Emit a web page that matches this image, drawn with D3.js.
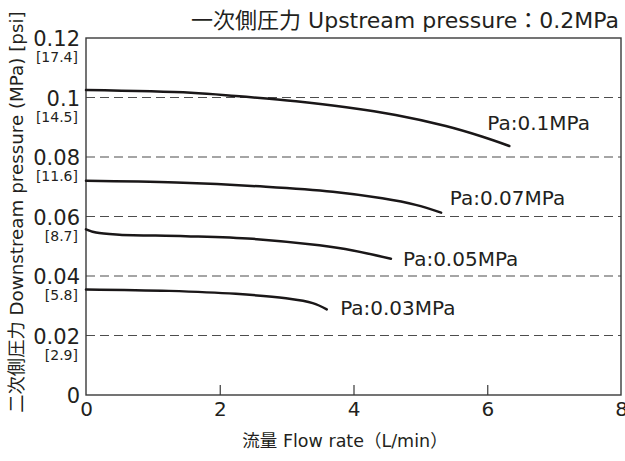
<!DOCTYPE html>
<html>
<head>
<meta charset="utf-8">
<script src="https://cdn.jsdelivr.net/npm/d3@7"></script>
<style>
  html, body { margin: 0; padding: 0; background: #fff; }
  svg { display: block; }
  text { font-family: "DejaVu Sans", "Noto Sans CJK JP", sans-serif; fill: #231f20; }
</style>
</head>
<body>
<svg id="chart" width="625" height="461"></svg>
<script>
// ---- data ----
const xTicks = [0, 2, 4, 6, 8];
const yTicks = [0, 0.02, 0.04, 0.06, 0.08, 0.1, 0.12];
const yTickLabels = ["0", "0.02", "0.04", "0.06", "0.08", "0.1", "0.12"];
const psiLabels = ["", "[2.9]", "[5.8]", "[8.7]", "[11.6]", "[14.5]", "[17.4]"];
const seriesNames = ["Pa:0.1MPa", "Pa:0.07MPa", "Pa:0.05MPa", "Pa:0.03MPa"];
const flow01 = [0, 1.57, 2.24, 3.14, 3.89, 4.63, 5.38, 5.93, 6.33];
const pres01 = [0.1025, 0.1016, 0.1005, 0.0987, 0.0967, 0.0941, 0.0904, 0.0868, 0.0837];
const flow007 = [0, 1.35, 2.69, 3.69, 4.43, 4.93, 5.31];
const pres007 = [0.0720, 0.0714, 0.0700, 0.0683, 0.0661, 0.0639, 0.0613];
const flow005 = [0, 0.15, 0.5, 1.49, 2.49, 3.49, 3.99, 4.56];
const pres005 = [0.0557, 0.0546, 0.0539, 0.0534, 0.0525, 0.0503, 0.0486, 0.0458];
const flow003 = [0, 1.24, 2.24, 2.99, 3.39, 3.6];
const pres003 = [0.0355, 0.0350, 0.0340, 0.0325, 0.0309, 0.0288];
const titleText = "一次側圧力 Upstream pressure：0.2MPa";
const xTitle = "流量 Flow rate（L/min）";
const yTitle = "二次側圧力 Downstream pressure (MPa)  [psi]";

// ---- layout ----
const svg = d3.select("#chart");
const mLeft = 86, mRight = 621, mTop = 38, mBottom = 395;
const x = d3.scaleLinear().domain([0, 8]).range([mLeft, mRight]);
const y = d3.scaleLinear().domain([0, 0.12]).range([mBottom, mTop]);

// gridlines (dashed)
svg.append("g")
  .selectAll("line")
  .data(yTicks.filter(v => v > 0 && v < 0.12))
  .join("line")
  .attr("x1", mLeft).attr("x2", mRight)
  .attr("y1", d => y(d)).attr("y2", d => y(d))
  .attr("stroke", "#4d4d4d").attr("stroke-width", 1.2)
  .attr("stroke-dasharray", "9,5");

// frame
svg.append("rect")
  .attr("x", mLeft).attr("y", mTop)
  .attr("width", mRight - mLeft).attr("height", mBottom - mTop)
  .attr("fill", "none").attr("stroke", "#3a3a3a").attr("stroke-width", 1.4);

// x axis (inner ticks)
const xAxis = d3.axisBottom(x).tickValues(xTicks).tickSizeInner(-10).tickSizeOuter(0)
  .tickFormat(d3.format("d")).tickPadding(7);
const gx = svg.append("g").attr("transform", `translate(0,${mBottom})`).call(xAxis);
gx.select(".domain").remove();
gx.selectAll(".tick line").attr("stroke", "#3a3a3a").attr("stroke-width", 1.2)
  .filter(d => d === 0 || d === 8).remove();
gx.selectAll(".tick text").attr("font-size", 20).attr("font-family", null)
  .attr("fill", "#231f20").attr("dy", "0.72em");

// y axis labels
const yAxis = d3.axisLeft(y).tickValues(yTicks).tickSize(0).tickPadding(6)
  .tickFormat((d, i) => yTickLabels[i]);
const gy = svg.append("g").attr("transform", `translate(${mLeft},0)`).call(yAxis);
gy.select(".domain").remove();
gy.selectAll(".tick text").attr("font-size", 21).attr("font-family", null)
  .attr("fill", "#231f20").attr("dy", "0.36em");
gy.selectAll(".tick").append("text")
  .attr("x", -8).attr("dy", "1.68em")
  .attr("text-anchor", "end").attr("font-size", 14)
  .attr("fill", "#231f20")
  .text((d, i) => psiLabels[i]);

// curves
const series = [
  {flow: flow01, pres: pres01},
  {flow: flow007, pres: pres007},
  {flow: flow005, pres: pres005},
  {flow: flow003, pres: pres003}
];
const line = d3.line().x(d => x(d[0])).y(d => y(d[1])).curve(d3.curveCatmullRom.alpha(0.5));
svg.append("g").selectAll("path")
  .data(series)
  .join("path")
  .attr("d", s => line(s.flow.map((f, i) => [f, s.pres[i]])))
  .attr("fill", "none").attr("stroke", "#1a1718").attr("stroke-width", 2.5)
  .attr("stroke-linecap", "round");

// series labels (placed relative to curve ends)
const labelOffsets = [[-0.33, 0.0079], [0.13, 0.0051], [0.18, -0.0001], [0.20, 0.0006]];
svg.append("g").selectAll("text")
  .data(series)
  .join("text")
  .attr("x", (s, i) => x(s.flow[s.flow.length - 1] + labelOffsets[i][0]))
  .attr("y", (s, i) => y(s.pres[s.pres.length - 1] + labelOffsets[i][1]))
  .attr("dy", "0.36em")
  .attr("font-size", 20)
  .text((s, i) => seriesNames[i]);

// titles
svg.append("text").attr("x", 619).attr("y", 20.5).attr("dy", "0.36em")
  .attr("text-anchor", "end").attr("font-size", 22).text(titleText);
svg.append("text").attr("x", 345).attr("y", 441).attr("dy", "0.36em")
  .attr("text-anchor", "middle").attr("font-size", 17.5).text(xTitle);
svg.append("text").attr("transform", "translate(16,212) rotate(-90)")
  .attr("dy", "0.36em").attr("text-anchor", "middle").attr("font-size", 18.3).text(yTitle);
</script>
</body>
</html>
